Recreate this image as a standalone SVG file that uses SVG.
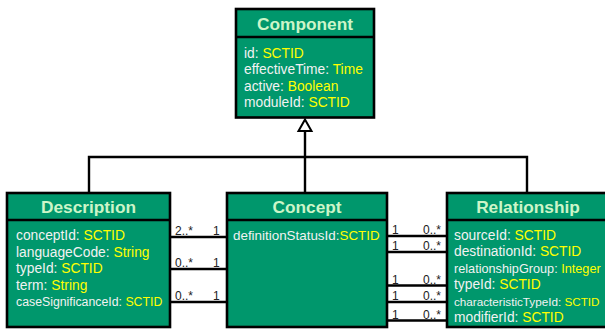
<svg xmlns="http://www.w3.org/2000/svg" width="605" height="329" viewBox="0 0 605 329">
  <style>
    .box { fill: #00976c; stroke: #000; stroke-width: 2.6; }
    .div { stroke: #000; stroke-width: 2.6; }
    .title { font-family: "Liberation Sans", Arial, sans-serif; font-weight: bold; font-size: 17.3px; fill: #ccf5c8; text-anchor: middle; }
    .attr { font-family: "Liberation Sans", Arial, sans-serif; font-size: 13.8px; fill: #f2f2f2; }
    .ty { fill: #ffff00; }
    .edge { stroke: #000; stroke-width: 2.4; fill: none; }
    .mult { font-family: "Liberation Sans", Arial, sans-serif; font-size: 12px; fill: #222; }
  </style>
  <rect width="605" height="329" fill="#ffffff"/>

  <!-- generalisation tree and associations -->
  <g id="connectors">
    <path class="edge" d="M305 131 V193 M89 193 V157 H527 V193"/>
    <polygon points="305,119.5 298.5,131 311.5,131" fill="#fff" stroke="#000" stroke-width="2"/>
    <!-- Description - Concept -->
    <path class="edge" d="M170 237 H227 M170 269 H227 M170 302 H227"/>
    <text class="mult" x="175" y="235">2..*</text><text class="mult" x="213" y="235">1</text>
    <text class="mult" x="175" y="267">0..*</text><text class="mult" x="213" y="267">1</text>
    <text class="mult" x="175" y="300">0..*</text><text class="mult" x="213" y="300">1</text>
    <!-- Concept - Relationship -->
    <path class="edge" d="M387 236 H447 M387 252 H447 M387 285.5 H447 M387 302 H447 M387 320.5 H447"/>
    <text class="mult" x="392" y="234">1</text><text class="mult" x="423" y="234">0..*</text>
    <text class="mult" x="392" y="250">1</text><text class="mult" x="423" y="250">0..*</text>
    <text class="mult" x="392" y="283.5">1</text><text class="mult" x="423" y="283.5">0..*</text>
    <text class="mult" x="392" y="300">1</text><text class="mult" x="423" y="300">0..*</text>
    <text class="mult" x="392" y="318.5">1</text><text class="mult" x="423" y="318.5">0..*</text>
  </g>

  <g id="component">
    <rect class="box" x="236" y="9" width="138" height="108.5"/>
    <line class="div" x1="236" y1="37" x2="374" y2="37"/>
    <text class="title" x="305" y="30">Component</text>
    <text class="attr" x="244" y="57.5">id: <tspan class="ty">SCTID</tspan></text>
    <text class="attr" x="244" y="74">effectiveTime: <tspan class="ty">Time</tspan></text>
    <text class="attr" x="244" y="90.5">active: <tspan class="ty">Boolean</tspan></text>
    <text class="attr" x="244" y="107">moduleId: <tspan class="ty">SCTID</tspan></text>
  </g>

  <g id="description">
    <rect class="box" x="7" y="193" width="163" height="134"/>
    <line class="div" x1="7" y1="220" x2="170" y2="220"/>
    <text class="title" x="88.5" y="212.5">Description</text>
    <text class="attr" x="16" y="240">conceptId: <tspan class="ty">SCTID</tspan></text>
    <text class="attr" x="16" y="256.5">languageCode: <tspan class="ty">String</tspan></text>
    <text class="attr" x="16" y="273">typeId: <tspan class="ty">SCTID</tspan></text>
    <text class="attr" x="16" y="289.5">term: <tspan class="ty">String</tspan></text>
    <text class="attr" x="16" y="306" style="font-size:12.3px">caseSignificanceId: <tspan class="ty">SCTID</tspan></text>
  </g>

  <g id="concept">
    <rect class="box" x="227" y="193" width="160" height="134"/>
    <line class="div" x1="227" y1="220" x2="387" y2="220"/>
    <text class="title" x="307" y="212.5">Concept</text>
    <text class="attr" x="233" y="239.5" style="font-size:13.4px">definitionStatusId:<tspan class="ty">SCTID</tspan></text>
  </g>

  <g id="relationship">
    <rect class="box" x="447" y="193" width="162" height="134"/>
    <line class="div" x1="447" y1="220" x2="609" y2="220"/>
    <text class="title" x="528" y="212.5">Relationship</text>
    <text class="attr" x="454" y="239.5">sourceId: <tspan class="ty">SCTID</tspan></text>
    <text class="attr" x="454" y="256">destinationId: <tspan class="ty">SCTID</tspan></text>
    <text class="attr" x="454" y="272.5" style="font-size:12.7px">relationshipGroup: <tspan class="ty">Integer</tspan></text>
    <text class="attr" x="454" y="289">typeId: <tspan class="ty">SCTID</tspan></text>
    <text class="attr" x="454" y="305.5" style="font-size:11.7px">characteristicTypeId: <tspan class="ty">SCTID</tspan></text>
    <text class="attr" x="454" y="322">modifierId: <tspan class="ty">SCTID</tspan></text>
  </g>
</svg>
